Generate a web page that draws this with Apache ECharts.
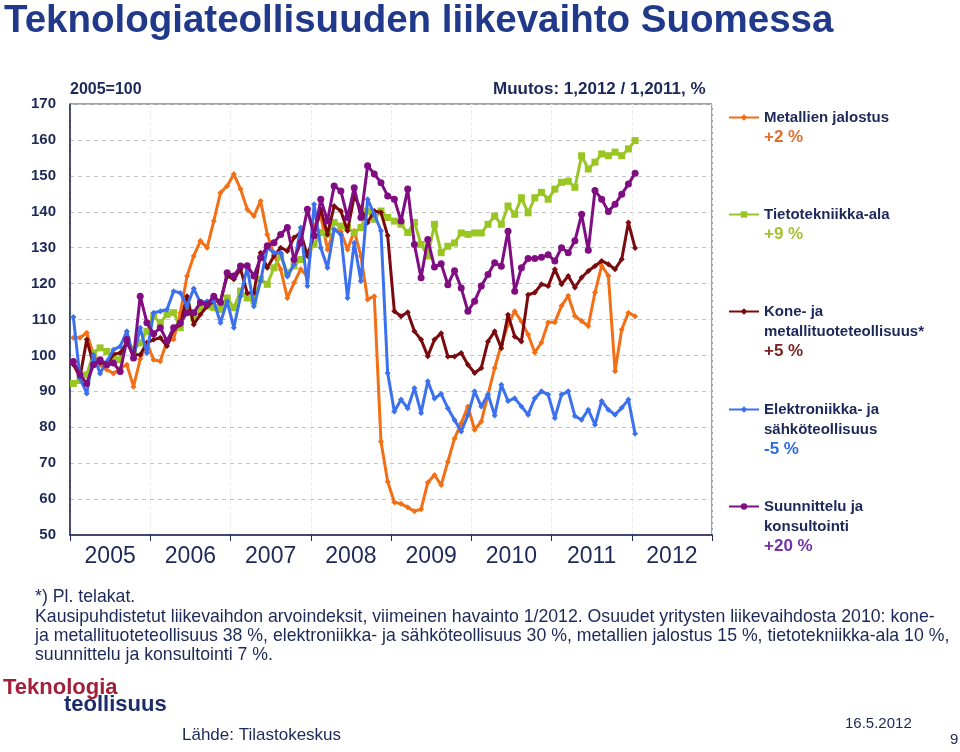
<!DOCTYPE html>
<html><head><meta charset="utf-8">
<script src="https://cdn.jsdelivr.net/npm/echarts@6/dist/echarts.min.js"></script>
<style>html,body{margin:0;padding:0;background:#fff}#c{width:960px;height:752px}</style>
</head><body><div id="c"></div>
<script>
const years = ['2005','2006','2007','2008','2009','2010','2011','2012'];
const yTicks = [50,60,70,80,90,100,110,120,130,140,150,160,170];
const seriesNames = ['Metallien jalostus','Tietotekniikka-ala','Kone- ja metallituoteteollisuus*','Elektroniikka- ja sähköteollisuus','Suunnittelu ja konsultointi'];
const legendLines = [['Metallien jalostus'],['Tietotekniikka-ala'],['Kone- ja','metallituoteteollisuus*'],['Elektroniikka- ja','sähköteollisuus'],['Suunnittelu ja','konsultointi']];
const changes = ['+2 %','+9 %','+5 %','-5 %','+20 %'];

const metallien = [104.9,104.9,106.3,100.2,97.4,96,95,96.4,97.4,91.3,99,103.5,98.8,
 98.4,104,104.5,111.9,122.1,127.7,131.9,130,137.4,145.3,147.2,150.5,146.3,140.7,138.8,143,133.7,128,124,116,120.2,124,122,136,138.8,129.5,135,134.5,129.5,134.7,127.7,115.6,116.5,76,64.9,59.1,58.7,57.7,56.6,57.2,64.6,66.7,63.9,70.4,76.9,81.1,85.8,79.3,81.6,89,96.5,103,108.6,112.3,109.5,105.8,100.8,103.6,109.2,109.2,113.8,116.6,111,109.6,108.2,117.5,125,122.2,95.6,107.2,111.9,110.9];
const tietotekniikka = [92.2,93,94.6,100.7,102.1,101.1,99.7,98.8,104.4,101.6,103.5,106.7,110.9,
 109.1,111.4,111.9,107.7,113.7,110.5,113.3,113.7,113.3,112.8,116,113.3,117.9,116,115.1,121.2,119.8,124.4,127.7,123,124.9,126.7,128.6,130.9,134.2,133.7,137,136,135.6,134.2,135.6,140.2,137.9,140.2,138.4,137.4,136.5,134.2,137,130.9,127.7,136.5,128.6,130.4,131.3,134.1,133.7,134.1,134.1,136.5,138.8,136.5,141.6,139.3,143.9,139.7,143.9,145.4,143.5,146.3,148.2,148.5,146.8,155.6,151.9,153.8,156.1,155.6,156.6,155.6,157.5,159.8];
const kone = [97.5,94,104.4,97.6,98,97.6,100.3,100.7,103.5,100.2,100.2,103.5,104.4,
 104.9,102.6,107.2,108.6,116.5,108.6,111.4,113.7,115.1,115.1,122.1,121.2,124,117.4,117.4,128.6,124.4,127.7,130,129.1,132.8,134.2,127.7,133.7,140.7,133.7,141.6,140.2,134.7,144.4,140.7,137,140.2,139.8,133.4,112.3,110.9,112,106.7,104.4,99.8,104.4,106.2,99.7,99.7,100.7,97.4,95.1,96.5,103.9,106.7,102,111.3,105.3,103.9,116.9,117.5,119.8,119.3,124,119.8,122.1,118.9,121.7,123.5,124.9,126.3,125.4,124,126.8,137,129.9];
const elektroniikka = [110.7,93.6,89.4,100.2,95,98.3,101.6,102.5,106.7,99.3,107.7,100.7,111.9,
 112.3,112.8,117.9,117.4,113.7,118.6,114.7,115.1,115.1,109.1,115.1,107.7,116.5,124.5,113.7,120.7,130,128.6,128.6,122,125.3,135.6,119.3,142.1,130,124.4,135.1,133.7,116,131.4,120.7,143.5,139.3,134.7,95.1,84.4,87.7,85.3,90.9,84,92.8,88,89.3,85.3,82,78.8,83.4,90,85.8,89.2,83.3,91.8,87.3,88.1,85.8,83.5,88.1,90,89.1,82.6,89.1,90,83.1,82.1,84.9,80.7,87.3,84.9,83.5,85.4,87.7,78.2];
const suunnittelu = [98.3,94.6,92.2,97.4,98.8,97.4,97.9,95.5,104.4,99.3,116.5,109.1,106,
 107.7,104,107.7,109.1,111.9,111.9,114.7,114.2,116.5,114.7,123,122.1,124.9,125,122.1,127.2,130.5,131.4,133.7,135.6,126.7,131.4,140.7,133.3,143.5,137.4,147.2,145.8,138.4,146.7,138.4,152.8,150.5,148.1,144.4,143.5,137.4,146.3,130.9,121.6,132.3,124.6,125.5,119.7,123.6,118.8,112.3,115.1,119.3,122.5,125.8,124.8,134.6,117.9,124.4,127,127,127.3,128,126.3,130,128.6,131.9,139.3,129.3,145.9,143.5,140.1,142.1,144.9,147.7,150.7];

const months = [];
years.forEach(y => { for (let m = 1; m <= 12; m++) months.push(y + '-' + (m < 10 ? '0' : '') + m); });

const NAVY = '#1c2858';
const colors = ['#f36f16','#99c623','#7a0a0e','#3b70ef','#800d82'];
const pctColors = ['#e0702a','#a3c22c','#7a2222','#2d6be2','#7430a8'];
const symbols = ['diamond','rect','diamond','diamond','circle'];
const symSizes = [6,7,6,6,7];
const dataSets = [metallien, tietotekniikka, kone, elektroniikka, suunnittelu];
const legendTops = [116,213,310,408,505];

const chart = echarts.init(document.getElementById('c'));
const LH = 20;
const legends = seriesNames.map((nm, k) => {
  const lines = legendLines[k];
  const n = lines.length + 1;
  return {
    data: [nm], left: 728, top: legendTops[k] - 6, padding: 0,
    orient: 'vertical', itemWidth: 30, itemHeight: 8, itemGap: 0, selectedMode: false,
    formatter: () => lines.map(l => '{n|' + l + '}').join('\n') + '\n{p|' + changes[k] + '}',
    textStyle: {
      padding: [(n - 1) * LH, 0, 0, 0],
      rich: {
        n: {fontFamily: 'Liberation Sans', fontWeight: 'bold', fontSize: 15, color: NAVY, lineHeight: LH},
        p: {fontFamily: 'Liberation Sans', fontWeight: 'bold', fontSize: 17, color: pctColors[k], lineHeight: LH}
      }
    }
  };
});

const txt = (x, y, text, font, fill) => ({type: 'text', left: x, top: y, style: {text, font, fill}});

chart.setOption({
  animation: false,
  color: colors,
  title: {text: 'Teknologiateollisuuden liikevaihto Suomessa', left: 4, top: 2, padding: 0,
    textStyle: {fontFamily: 'Liberation Sans', fontWeight: 'bold', fontSize: 38.5, color: '#21398a'}},
  legend: legends,
  grid: {left: 70, right: 248, top: 104, bottom: 217, show: true, borderColor: '#3a4260', borderWidth: 1},
  xAxis: [
    {type: 'category', data: months, boundaryGap: true, show: false},
    {type: 'category', data: years, boundaryGap: true, position: 'bottom',
      axisLine: {lineStyle: {color: NAVY, width: 1.5}},
      axisTick: {show: true, length: 6, lineStyle: {color: NAVY}},
      axisLabel: {fontFamily: 'Liberation Sans', fontSize: 23, color: NAVY, margin: 10},
      splitLine: {show: true, lineStyle: {type: 'dashed', color: '#ececec'}}}
  ],
  yAxis: {type: 'value', min: yTicks[0], max: yTicks[yTicks.length - 1], interval: 10,
    axisLine: {show: true, lineStyle: {color: NAVY, width: 1.5}},
    axisTick: {show: false},
    axisLabel: {fontFamily: 'Liberation Sans', fontWeight: 'bold', fontSize: 15, color: NAVY, margin: 14},
    splitLine: {lineStyle: {type: [4, 4], color: '#c4c4c4'}}},
  series: dataSets.map((d, k) => ({
    name: seriesNames[k], type: 'line', xAxisIndex: 0, data: d,
    symbol: symbols[k], symbolSize: symSizes[k], showAllSymbol: true,
    lineStyle: {width: 3, color: colors[k]}, itemStyle: {color: colors[k]}, z: 2 + k
  })),
  graphic: [
    txt(70, 82, '2005=100', 'bold 16px "Liberation Sans"', NAVY),
    txt(493, 81, 'Muutos: 1,2012 / 1,2011, %', 'bold 17px "Liberation Sans"', NAVY),
    txt(35, 588, '*) Pl. telakat.', '17.7px "Liberation Sans"', NAVY),
    txt(35, 608, 'Kausipuhdistetut liikevaihdon arvoindeksit, viimeinen havainto 1/2012. Osuudet yritysten liikevaihdosta 2010: kone-', '17.7px "Liberation Sans"', NAVY),
    txt(35, 627, 'ja metallituoteteollisuus 38 %, elektroniikka- ja sähköteollisuus 30 %, metallien jalostus 15 %, tietotekniikka-ala 10 %,', '17.7px "Liberation Sans"', NAVY),
    txt(35, 646, 'suunnittelu ja konsultointi 7 %.', '17.7px "Liberation Sans"', NAVY),
    txt(3, 677, 'Teknologia', 'bold 22px "Liberation Sans"', '#a3203a'),
    txt(64, 694, 'teollisuus', 'bold 22px "Liberation Sans"', '#1d2d6b'),
    txt(182, 727, 'Lähde: Tilastokeskus', '17px "Liberation Sans"', NAVY),
    txt(845, 716, '16.5.2012', '15px "Liberation Sans"', NAVY),
    txt(950, 732, '9', '15px "Liberation Sans"', NAVY)
  ]
});
</script></body></html>
